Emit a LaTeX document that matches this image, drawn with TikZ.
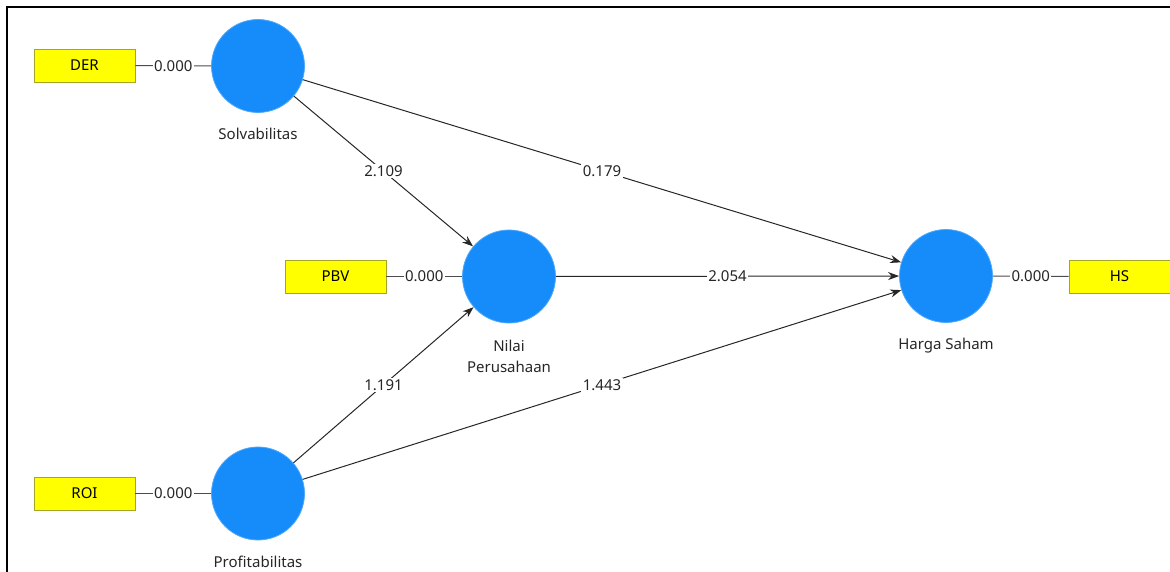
\documentclass[tikz,border=0pt]{standalone}
\usepackage{fontspec}
\setmainfont{Noto Sans}
\usetikzlibrary{arrows.meta}
\definecolor{lvblue}{RGB}{22,140,250}
\definecolor{indyellow}{RGB}{255,255,0}
\definecolor{indborder}{RGB}{165,165,40}
\begin{document}
\begin{tikzpicture}[x=1pt,y=-1pt,font=\fontsize{15}{21}\selectfont,
  lv/.style={circle,fill=lvblue,draw=lvblue!75!white,line width=0.8pt,minimum size=93pt,inner sep=0pt},
  ind/.style={rectangle,fill=indyellow,draw=indborder,line width=0.8pt,minimum width=101pt,minimum height=33pt,inner sep=0pt},
  meas/.style={draw=black!70,line width=1pt},
  pathln/.style={draw=black!85,line width=1pt,-{Stealth[length=11pt,width=8pt]}},
  val/.style={fill=white,inner sep=1.5pt,text=black!85},
  lbl/.style={text=black!85,align=center}]
\useasboundingbox (0,0) rectangle (1170,572);
\draw[line width=2pt,black] (7,572) -- (7,7.5) -- (1170,7.5);
% latent variables
\node[lv] (solv) at (258,66) {};
\node[lv] (nilai) at (509,276.5) {};
\node[lv] (harga) at (946,276) {};
\node[lv] (prof) at (258,493.5) {};
% indicators
\node[ind] (der) at (84.5,65.5) {DER};
\node[ind] (pbv) at (335.5,276.5) {PBV};
\node[ind] (hs) at (1119.5,276.5) {HS};
\node[ind] (roi) at (84.5,493.5) {ROI};
% labels
\node[lbl] (solvl) at (258,134) {Solvabilitas};
\node[lbl] (nilail) at (509,356) {Nilai\\Perusahaan};
\node[lbl] (hargal) at (946,346) {Harga Saham};
\node[lbl] (profl) at (258,562) {Profitabilitas};
% measurement lines
\draw[meas] (der) -- node[val]{0.000} (solv);
\draw[meas] (pbv) -- node[val]{0.000} (nilai);
\draw[meas] (roi) -- node[val]{0.000} (prof);
\draw[meas] (harga) -- node[val]{0.000} (hs);
% structural paths
\draw[pathln] (solv) -- node[val]{2.109} (nilai);
\draw[pathln] (solv) -- node[val]{0.179} (harga);
\draw[pathln] (nilai) -- node[val]{2.054} (harga);
\draw[pathln] (prof) -- node[val]{1.191} (nilai);
\draw[pathln] (prof) -- node[val]{1.443} (harga);
\end{tikzpicture}
\end{document}
